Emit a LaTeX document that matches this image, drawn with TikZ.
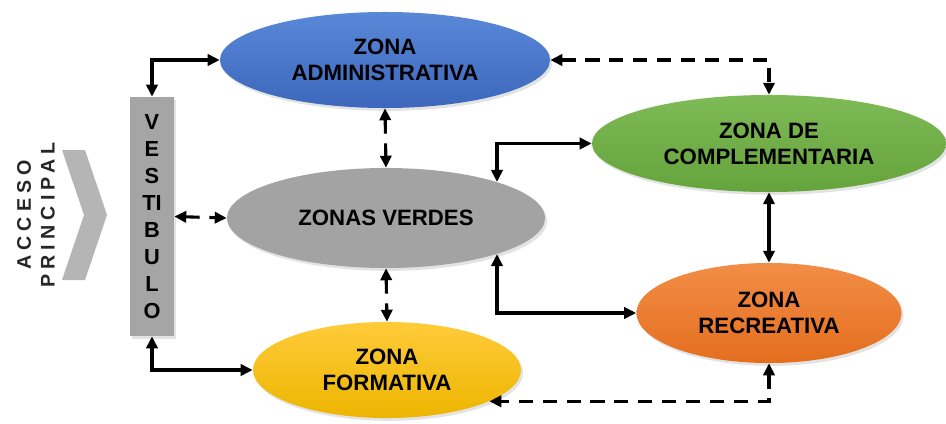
\documentclass[tikz,border=0pt]{standalone}
\usepackage{fontspec}
\setmainfont{Liberation Sans}
\usepackage{tikz}
\usetikzlibrary{positioning, arrows.meta, shapes.geometric, shadows}
\definecolor{admintop}{HTML}{5A88D8}
\definecolor{adminbot}{HTML}{3C67BC}
\definecolor{verdegray}{HTML}{A3A3A3}
\definecolor{formtop}{HTML}{FFCB3A}
\definecolor{formbot}{HTML}{EDB500}
\definecolor{compltop}{HTML}{7EBA56}
\definecolor{complbot}{HTML}{65A33C}
\definecolor{recrtop}{HTML}{F28D47}
\definecolor{recrbot}{HTML}{E46E1E}
\definecolor{vestgray}{HTML}{A5A5A5}
\definecolor{chevgray}{HTML}{B5B5B5}
\definecolor{charcoal}{HTML}{262626}

\begin{document}
\begin{tikzpicture}[
  x=0.025cm, y=0.025cm,
  every node/.style={font=\bfseries\fontsize{15.8}{18.5}\selectfont, text=black},
  zone/.style={
    ellipse,
    inner sep=0pt,
    align=center,
    drop shadow={opacity=0.22, shadow xshift=1.5pt, shadow yshift=-2pt},
  },
  link/.style={
    {Triangle[length=8.5pt, width=8pt]}-{Triangle[length=8.5pt, width=8pt]},
    line width=2.2pt,
    draw=black,
  },
  dashlink/.style={
    link,
    dash pattern=on 10pt off 7pt,
  },
]
  \useasboundingbox (0,0) rectangle (946,423);

  % entrance
  \fill[chevgray] (62,273) -- (85,273) -- (107,208) -- (85,143) -- (62,143) -- (84,208) -- cycle;
  \node[rotate=90, align=center, text=charcoal,
        font=\bfseries\fontsize{14}{17}\selectfont\addfontfeature{LetterSpace=26}] (acceso) at (36,208)
        {ACCESO\\PRINCIPAL};

  \node[fill=vestgray, minimum width=1.1cm, minimum height=5.975cm, inner sep=0pt, align=center,
        font=\bfseries\fontsize{15.5}{19.2}\selectfont,
        drop shadow={opacity=0.22, shadow xshift=1.5pt, shadow yshift=-2pt}] (vest) at (152,206.5)
        {V\\E\\S\\TI\\B\\U\\L\\O};

  % zones
  \node[zone, top color=admintop, bottom color=adminbot, minimum width=8.25cm, minimum height=2.4cm] (admin) at (385,363) {ZONA\\ADMINISTRATIVA};
  \node[zone, fill=verdegray, minimum width=7.95cm, minimum height=2.5cm] (verdes) at (386,205) {ZONAS VERDES};
  \node[zone, top color=formtop, bottom color=formbot, minimum width=6.7cm, minimum height=2.4cm] (form) at (387,53) {ZONA\\FORMATIVA};
  \node[zone, top color=compltop, bottom color=complbot, minimum width=8.85cm, minimum height=2.425cm] (compl) at (769,279.5) {ZONA DE\\COMPLEMENTARIA};
  \node[zone, top color=recrtop, bottom color=recrbot, minimum width=6.625cm, minimum height=2.5cm] (recr) at (769,110) {ZONA\\RECREATIVA};

  % connections
  \draw[link] (vest.north) |- (admin.west);
  \draw[link] (vest.south) |- (form.west);
  \draw[dashlink] (vest.east) -- (verdes.west);
  \draw[dashlink] (admin.south) -- (verdes.north);
  \draw[dashlink] (verdes.south) -- (form.north);
  \draw[dashlink] (admin.east) -| (compl.north);
  \draw[link] (verdes.18) |- (compl.west);
  \draw[link] (verdes.-18) |- (recr.west);
  \draw[link] (compl.south) -- (recr.north);
  \draw[dashlink] (recr.south) |- (form.-17);
\end{tikzpicture}
\end{document}
